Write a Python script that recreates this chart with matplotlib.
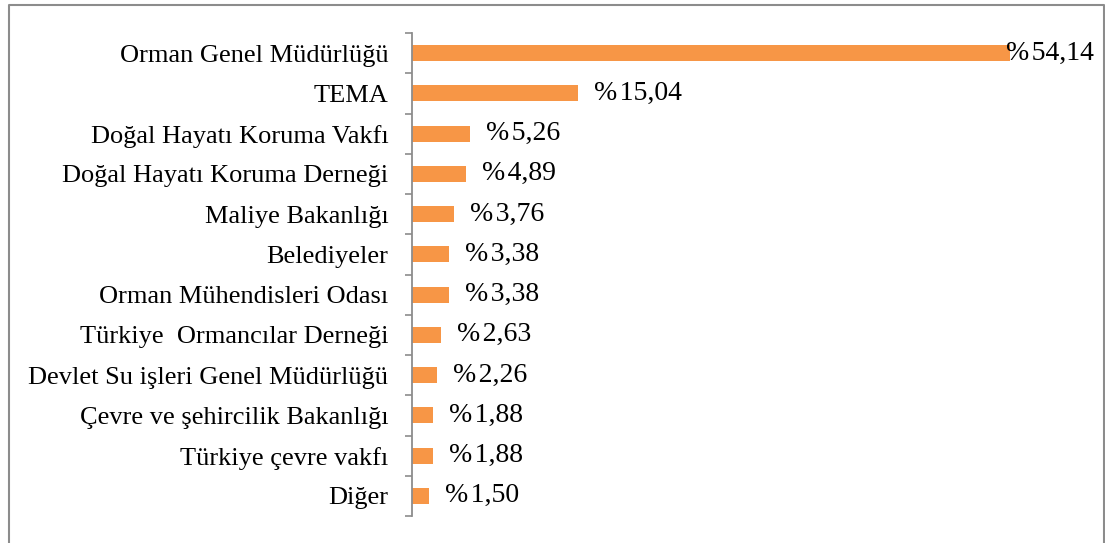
import matplotlib.pyplot as plt
import numpy as np
from matplotlib.lines import Line2D

plt.rcParams['font.family'] = ['Liberation Serif', 'DejaVu Serif']

categories = ['Orman Genel Müdürlüğü', 'TEMA', 'Doğal Hayatı Koruma Vakfı',
              'Doğal Hayatı Koruma Derneği', 'Maliye Bakanlığı', 'Belediyeler',
              'Orman Mühendisleri Odası', 'Türkiye  Ormancılar Derneği',
              'Devlet Su işleri Genel Müdürlüğü', 'Çevre ve şehircilik Bakanlığı',
              'Türkiye çevre vakfı', 'Diğer']
values = [54.14, 15.04, 5.26, 4.89, 3.76, 3.38, 3.38, 2.63, 2.26, 1.88, 1.88, 1.50]
labels = ['%\u200a54,14', '%\u200a15,04', '%\u200a5,26', '%\u200a4,89', '%\u200a3,76',
          '%\u200a3,38', '%\u200a3,38', '%\u200a2,63', '%\u200a2,26', '%\u200a1,88',
          '%\u200a1,88', '%\u200a1,50']

W, H = 1105, 543
fig = plt.figure(figsize=(W / 100, H / 100), dpi=100)
ax = fig.add_axes([412 / W, 1 - 516 / H, (1010 - 412) / W, (516 - 33) / H])

y = np.arange(len(categories))
ax.barh(y, values, height=0.4, color='#F79646')
ax.set_ylim(len(categories) - 0.5, -0.5)
ax.set_xlim(0, 54.14)

for yi, v, lab in zip(y, values, labels):
    x = min(v + 1.45, 53.8)
    ax.text(x, yi, lab, va='center', ha='left', fontsize=20)

ax.set_yticks(y)
ax.set_yticklabels(categories, fontsize=19)
ax.tick_params(axis='y', which='major', length=0, pad=17)
ax.set_yticks(np.arange(-0.5, len(categories)), minor=True)
ax.tick_params(axis='y', which='minor', length=5, width=1.2, color='#8c8c8c')
ax.set_xticks([])
for s in ['top', 'right', 'bottom']:
    ax.spines[s].set_visible(False)
ax.spines['left'].set_color('#8c8c8c')
ax.spines['left'].set_linewidth(1.3)

# chart border (left, top, right)
bx0, bx1, by1 = 8.5 / W, 1103.5 / W, 1 - 4.5 / H
fig.add_artist(Line2D([bx0, bx0, bx1, bx1], [0, by1, by1, 0],
                      transform=fig.transFigure, color='#8c8c8c', lw=1.5))

fig.savefig('out.png', dpi=100)
